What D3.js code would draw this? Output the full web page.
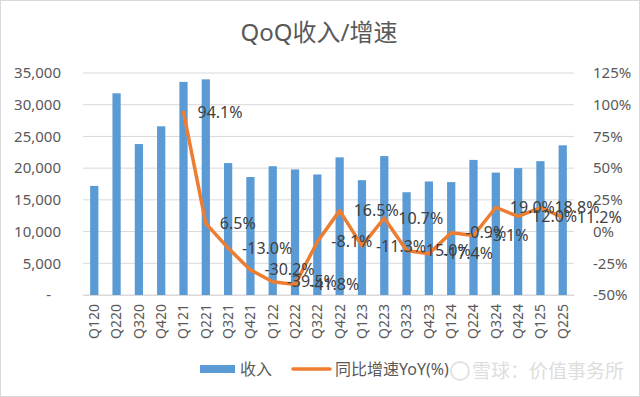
<!DOCTYPE html>
<html>
<head>
<meta charset="utf-8">
<script src="https://cdn.jsdelivr.net/npm/d3@7"></script>
<style>
  body { margin: 0; background: #fff; }
  svg text { font-family: "Noto Sans", "Noto Sans CJK SC", sans-serif; }
</style>
</head>
<body>
<svg id="chart" width="640" height="397"></svg>
<script>
// quarters, revenue, yoy growth (starts at Q121)
let quarters = ["Q120","Q220","Q320","Q420","Q121","Q221","Q321","Q421","Q122","Q222","Q322",
                "Q422","Q123","Q223","Q323","Q423","Q124","Q224","Q324","Q424","Q125","Q225"];
let revenue = [17200,31800,23800,26600,33600,34000,20800,18600,20300,19800,19000,
               21700,18100,21900,16200,17900,17800,21300,19300,20000,21100,23600];
let yoyQuarters = quarters.slice(4);
let yoy = [94.1,6.5,-13.0,-30.2,-39.5,-41.8,-8.1,16.5,-11.3,10.7,-15.0,-17.4,-0.9,-3.1,19.0,12.0,18.8,11.2];
let leftTicks = [0,5000,10000,15000,20000,25000,30000,35000];
let rightTicks = [-50,-25,0,25,50,75,100,125];

let fmt = d3.format(",");
let svg = d3.select("#chart");
let W = 640, H = 397;
let margin = {top: 73, bottom: 102, left: 83, right: 66};

let blue = "#5B9BD5", orange = "#ED7D31", grey = "#595959";

// outer border
svg.append("rect").attr("x",0.5).attr("y",0.5).attr("width",W-1).attr("height",H-1)
    .attr("fill","#fff").attr("stroke","#d9d9d9");

svg.append("text").attr("x",319).attr("y",41).attr("text-anchor","middle")
    .attr("font-size","24px").attr("fill",grey).text("QoQ收入/增速");

let x = d3.scaleBand().domain(quarters)
    .range([margin.left, W - margin.right]).paddingInner(0.63).paddingOuter(0.32);
let yL = d3.scaleLinear().domain([0,35000]).range([H - margin.bottom, margin.top]);
let yR = d3.scaleLinear().domain([-50,125]).range([H - margin.bottom, margin.top]);

// gridlines
svg.append("g").selectAll("line").data(leftTicks).enter().append("line")
    .attr("x1", margin.left).attr("x2", W - margin.right)
    .attr("y1", d => yL(d)).attr("y2", d => yL(d))
    .attr("stroke","#d9d9d9").attr("stroke-width",1);

// left axis
let axL = svg.append("g").attr("transform","translate(" + (margin.left - 19) + ",0)")
    .call(d3.axisLeft(yL).tickValues(leftTicks).tickSize(0)
        .tickFormat(d => d == 0 ? "-" : fmt(d)));
axL.select(".domain").remove();
axL.selectAll("text").attr("font-size","15px").attr("fill",grey)
    .attr("font-family","'Noto Sans', sans-serif").attr("dx", d => d == 0 ? "-10" : "0");

// right axis
let axR = svg.append("g").attr("transform","translate(" + (W - margin.right + 16) + ",0)")
    .call(d3.axisRight(yR).tickValues(rightTicks).tickSize(0).tickFormat(d => d + "%"));
axR.select(".domain").remove();
axR.selectAll("text").attr("font-size","15px").attr("fill",grey)
    .attr("font-family","'Noto Sans', sans-serif");

// bars
svg.append("g").selectAll("rect").data(revenue).enter().append("rect")
    .attr("x", (d,i) => x(quarters[i]))
    .attr("y", d => yL(d))
    .attr("width", x.bandwidth())
    .attr("height", d => yL(0) - yL(d))
    .attr("fill", blue);

// x axis
let axX = svg.append("g").attr("transform","translate(0," + yL(0) + ")")
    .call(d3.axisBottom(x).tickSize(0));
axX.select(".domain").attr("stroke","#d9d9d9");
axX.selectAll("text")
    .attr("font-size","14px").attr("fill",grey)
    .attr("font-family","'Noto Sans', sans-serif")
    .attr("transform","rotate(-90)")
    .attr("text-anchor","end")
    .attr("x",-9).attr("y",0).attr("dy","0.35em");

// yoy line
let cx = q => x(q) + x.bandwidth()/2;
let line = d3.line().x((d,i) => cx(yoyQuarters[i])).y(d => yR(d));
svg.append("path").datum(yoy).attr("d", line)
    .attr("fill","none").attr("stroke",orange).attr("stroke-width",3.5)
    .attr("stroke-linejoin","round").attr("stroke-linecap","round");

// data labels
svg.append("g").selectAll("text").data(yoy).enter().append("text")
    .attr("x", (d,i) => cx(yoyQuarters[i]) + 14)
    .attr("y", d => yR(d))
    .attr("dy","0.35em")
    .attr("font-size","16px").attr("fill","#404040")
    .text(d => d.toFixed(1) + "%");

// legend
let leg = svg.append("g");
leg.append("rect").attr("x",200).attr("y",365).attr("width",35).attr("height",8).attr("fill",blue);
leg.append("text").attr("x",240).attr("y",369).attr("dy","0.35em")
    .attr("font-size","16px").attr("fill",grey).text("收入");
leg.append("line").attr("x1",293).attr("x2",330).attr("y1",369).attr("y2",369)
    .attr("stroke",orange).attr("stroke-width",3.5).attr("stroke-linecap","round");
leg.append("text").attr("x",335).attr("y",369).attr("dy","0.35em")
    .attr("font-size","16px").attr("fill",grey).text("同比增速YoY(%)");

// watermark
let wm = svg.append("g").attr("opacity",0.6);
wm.append("circle").attr("cx",460).attr("cy",371).attr("r",9)
    .attr("fill","none").attr("stroke","#cfcfcf").attr("stroke-width",2);
wm.append("text").attr("x",472).attr("y",371).attr("dy","0.35em")
    .attr("font-size","19px").attr("fill","#c8c8c8")
    .attr("font-family","'Noto Sans CJK SC', sans-serif").text("雪球：价值事务所");
</script>
</body>
</html>
